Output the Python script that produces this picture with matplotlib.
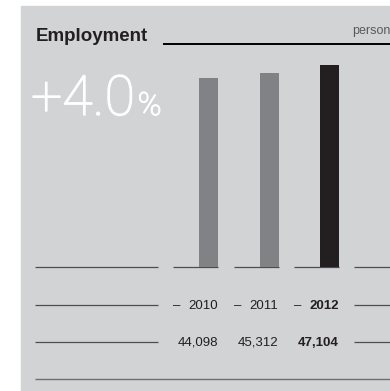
import matplotlib.pyplot as plt
import matplotlib.patheffects as pe
from matplotlib.patches import Rectangle

# Data
years = ["2010", "2011", "2012"]
employees = [44098, 45312, 47104]
highlight = [False, False, True]
growth_label = "+4.0"
title = "Employment"
unit = "persons"

# Colours
bg = "#d1d3d4"
bar_grey = "#808285"
bar_dark = "#231f20"
text_dark = "#231f20"
line_col = "#4d4d4f"

W, H = 390, 391
fig = plt.figure(figsize=(W / 100, H / 100), dpi=100)

# overlay axes in pixel units for background, rules and text
ov = fig.add_axes([0, 0, 1, 1])
ov.set_xlim(0, W)
ov.set_ylim(H, 0)
ov.axis("off")
ov.add_patch(Rectangle((21, 6), W - 21, H - 6, color=bg, zorder=0))

# column layout
col_left = 173
col_pitch = 60.5
col_w = 45
bar_w = 19
row_y = [267, 305, 342]
bottom_y = 379

# bars axes
bar_top = 65
bx = fig.add_axes([col_left / W, (H - row_y[0]) / H, (W - col_left) / W, (row_y[0] - bar_top) / H])
bx.set_facecolor("none")
bx.axis("off")
xs = [i + (col_w - bar_w / 2) / col_pitch for i in range(len(years))]
bx.bar(xs, employees, width=bar_w / col_pitch,
       color=[bar_dark if h else bar_grey for h in highlight], zorder=2)
bx.set_xlim(0, (W - col_left) / col_pitch)
bx.set_ylim(0, max(employees))

# title + rule
ov.text(36, 41.3, title, fontsize=13.5, fontweight="bold", color=text_dark,
        family="Liberation Sans", va="baseline", ha="left")
ov.plot([163, W], [44, 44], color="black", lw=1.4, solid_capstyle="butt")
ov.text(352, 34, unit, fontsize=9, color="#58595b", family="Liberation Sans",
        va="baseline", ha="left", clip_on=False)

# big growth figure, "%" placed right after the number
thick = [pe.withStroke(linewidth=0.9, foreground="white")]
big = ov.text(31, 115, growth_label, fontsize=40, color="white", family="Roboto",
              fontweight="light", va="baseline", ha="left", path_effects=thick)
fig.canvas.draw()
bb = big.get_window_extent().transformed(ov.transData.inverted())
ov.text(max(bb.x0, bb.x1) + 3, 115, "%", fontsize=23, color="white", family="Roboto",
        fontweight="light", va="baseline", ha="left", path_effects=thick)

# rules
for y in row_y:
    ov.plot([35, 158], [y, y], color=line_col, lw=0.9, solid_capstyle="butt")
    ov.plot([354, W], [y, y], color=line_col, lw=0.9, solid_capstyle="butt")
for i in range(len(years)):
    x0 = col_left + i * col_pitch
    ov.plot([x0, x0 + col_w], [row_y[0], row_y[0]], color=line_col, lw=0.9,
            solid_capstyle="butt", zorder=3)
ov.plot([35, W], [bottom_y, bottom_y], color="#6d6e71", lw=1.0, solid_capstyle="butt")

# year + value rows
for i, (yr, val, hl) in enumerate(zip(years, employees, highlight)):
    x0 = col_left + i * col_pitch
    wt = "bold" if hl else "normal"
    ov.text(x0, 309, "\u2013", fontsize=9.5, color=text_dark, family="Liberation Sans",
            va="baseline", ha="left")
    ov.text(x0 + col_w, 309, yr, fontsize=9.5, color=text_dark, family="Liberation Sans",
            fontweight=wt, va="baseline", ha="right")
    ov.text(x0 + col_w, 345.5, f"{val:,}", fontsize=9.5, color=text_dark,
            family="Liberation Sans", fontweight=wt, va="baseline", ha="right")

fig.savefig("out.png", dpi=100)
